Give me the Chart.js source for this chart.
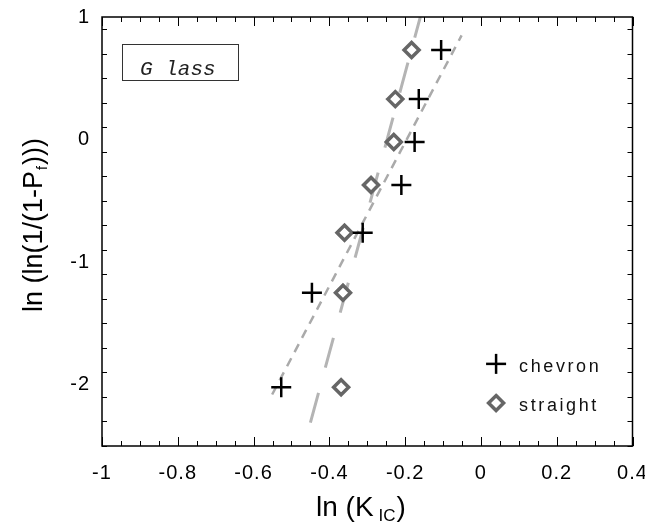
<!DOCTYPE html>
<html>
<head>
<meta charset="utf-8">
<script src="https://cdn.jsdelivr.net/npm/chart.js@4/dist/chart.umd.min.js"></script>
<style>
  html, body { margin: 0; padding: 0; background: #fff; }
  #wrap { width: 645px; height: 525px; }
</style>
</head>
<body>
<div id="wrap"><canvas id="chart" width="645" height="525"></canvas></div>
<script>
// ----------- Data -----------
const rankY = [-2.02, -1.25, -0.76, -0.37, -0.02, 0.33, 0.73];
const chevronX = [-0.527, -0.446, -0.312, -0.210, -0.175, -0.164, -0.105];
const straightX = [-0.369, -0.364, -0.360, -0.290, -0.230, -0.226, -0.183];
// fitted lines (end points)
const chevronFitX = [-0.551, -0.051];
const chevronFitY = [-2.08, 0.85];
const straightFitX = [-0.450, -0.160];
const straightFitY = [-2.31, 1.00];
// ticks
const xTicks = [-1, -0.8, -0.6, -0.4, -0.2, 0, 0.2, 0.4];
const yTicks = [-2, -1, 0, 1];
const xMinorStep = 0.05;
const yMinorStep = 0.2;

const toPts = (xs, ys) => xs.map((x, i) => ({ x: x, y: ys[i] }));
const tickFont = { family: "'Liberation Sans Narrow', 'Arial Narrow', 'Liberation Sans', sans-serif", size: 20 };
const titleFamily = "'Liberation Sans', Arial, sans-serif";

// ----------- Frame + inward ticks on all sides -----------
const framePlugin = {
  id: 'frame',
  beforeDraw(chart) { chart.ctx.letterSpacing = '1px'; },
  afterDraw(chart) {
    const { ctx, chartArea: a, scales: { x, y } } = chart;
    ctx.save();
    ctx.letterSpacing = '0px';
    ctx.strokeStyle = '#000';
    ctx.lineWidth = 1;
    const seg = (x1, y1, x2, y2) => { ctx.beginPath(); ctx.moveTo(x1, y1); ctx.lineTo(x2, y2); ctx.stroke(); };
    for (let i = 0; ; i++) {
      const v = x.min + i * xMinorStep;
      if (v > x.max + 1e-9) break;
      const px = Math.round(x.getPixelForValue(v)) + 0.5;
      const len = xTicks.some(t => Math.abs(t - v) < 1e-6) ? 9 : 5;
      seg(px, a.bottom, px, a.bottom - len);
      seg(px, a.top, px, a.top + len);
    }
    for (let i = 0; ; i++) {
      const v = y.min + i * yMinorStep;
      if (v > y.max + 1e-9) break;
      const py = Math.round(y.getPixelForValue(v)) + 0.5;
      const len = yTicks.some(t => Math.abs(t - v) < 1e-6) ? 10 : 5;
      seg(a.left, py, a.left + len, py);
      seg(a.right, py, a.right - len, py);
    }
    ctx.lineWidth = 1.5;
    ctx.strokeRect(a.left, a.top, a.right - a.left, a.bottom - a.top);

    // "Glass" label box
    ctx.lineWidth = 1;
    ctx.strokeStyle = '#333';
    ctx.strokeRect(122.5, 44.5, 116, 36);
    ctx.fillStyle = '#222';
    ctx.font = "italic 21px 'Liberation Mono', 'DejaVu Sans Mono', monospace";
    ctx.textBaseline = 'alphabetic';
    ctx.textAlign = 'left';
    ctx.fillText('G lass', 140, 75);

    // legend
    ctx.strokeStyle = '#000';
    ctx.lineWidth = 2.5;
    const cx = x.getPixelForValue(0.04), cyA = y.getPixelForValue(-1.83), cyB = y.getPixelForValue(-2.15);
    seg(cx - 10, cyA, cx + 10, cyA);
    seg(cx, cyA - 10, cx, cyA + 10);
    ctx.strokeStyle = '#666';
    ctx.fillStyle = '#fff';
    ctx.lineWidth = 3.5;
    ctx.beginPath();
    ctx.moveTo(cx, cyB - 7.5); ctx.lineTo(cx + 7.5, cyB); ctx.lineTo(cx, cyB + 7.5); ctx.lineTo(cx - 7.5, cyB); ctx.closePath();
    ctx.fill(); ctx.stroke();
    ctx.fillStyle = '#111';
    ctx.font = '18px ' + titleFamily;
    ctx.letterSpacing = '2.6px';
    ctx.fillText('chevron', cx + 23, cyA + 8);
    ctx.fillText('straight', cx + 23, cyB + 8);
    ctx.letterSpacing = '0px';

    // axis titles
    ctx.fillStyle = '#000';
    let tx = 316;
    ctx.font = '28px ' + titleFamily;
    ctx.fillText('ln (K', tx, 516);
    tx += ctx.measureText('ln (K').width + 5;
    ctx.font = '17px ' + titleFamily;
    ctx.fillText('IC', tx, 521);
    tx += ctx.measureText('IC').width + 1;
    ctx.font = '28px ' + titleFamily;
    ctx.fillText(')', tx, 516);

    ctx.translate(42, 225);
    ctx.rotate(-Math.PI / 2);
    ctx.font = '27px ' + titleFamily;
    const partA = 'ln (ln(1/(1-P', partB = ')))';
    const wA = ctx.measureText(partA).width, wB = ctx.measureText(partB).width;
    ctx.font = '14px ' + titleFamily;
    const wS = ctx.measureText('f').width + 2;
    let sx = -(wA + wS + wB) / 2;
    ctx.font = '27px ' + titleFamily;
    ctx.fillText(partA, sx, 0);
    sx += wA + 1;
    ctx.font = '14px ' + titleFamily;
    ctx.fillText('f', sx, 5);
    sx += wS - 1;
    ctx.font = '27px ' + titleFamily;
    ctx.fillText(partB, sx, 0);
    ctx.restore();
  }
};

const chart = new Chart(document.getElementById('chart'), {
  type: 'scatter',
  data: {
    datasets: [
      { label: 'chevron', data: toPts(chevronX, rankY), pointStyle: 'cross', pointRadius: 10,
        borderColor: '#000', borderWidth: 2.5, order: 1 },
      { label: 'straight', data: toPts(straightX, rankY), pointStyle: 'rectRot', pointRadius: 7.5,
        borderColor: '#666', backgroundColor: '#fff', borderWidth: 3.5, order: 2 },
      { type: 'line', label: 'chevron fit', data: toPts(chevronFitX, chevronFitY), borderColor: '#aaa',
        borderWidth: 2.5, borderDash: [9, 7], pointRadius: 0, fill: false, order: 3 },
      { type: 'line', label: 'straight fit', data: toPts(straightFitX, straightFitY), borderColor: '#b4b4b4',
        borderWidth: 3, borderDash: [31, 26], pointRadius: 0, fill: false, order: 4 }
    ]
  },
  options: {
    responsive: false,
    animation: false,
    devicePixelRatio: 1,
    events: [],
    layout: { padding: { top: 17, right: 12, left: 0, bottom: 0 } },
    plugins: { legend: { display: false }, tooltip: { enabled: false } },
    scales: {
      x: {
        type: 'linear', min: -1, max: 0.4,
        afterBuildTicks: s => { s.ticks = xTicks.map(v => ({ value: v })); },
        afterFit: s => { s.height = 79; s.paddingLeft = 0; s.paddingRight = 0; },
        grid: { display: false, drawTicks: false },
        border: { display: false },
        ticks: { padding: 15, color: '#000', font: tickFont, maxRotation: 0, autoSkip: false,
                 callback: v => String(v) }
      },
      y: {
        type: 'linear', min: -2.5, max: 1,
        afterBuildTicks: s => { s.ticks = yTicks.map(v => ({ value: v })); },
        afterFit: s => { s.width = 102; s.paddingTop = 0; s.paddingBottom = 0; },
        grid: { display: false, drawTicks: false },
        border: { display: false },
        ticks: { padding: 12, color: '#000', font: tickFont, autoSkip: false,
                 callback: v => String(v) }
      }
    }
  },
  plugins: [framePlugin]
});
</script>
</body>
</html>
